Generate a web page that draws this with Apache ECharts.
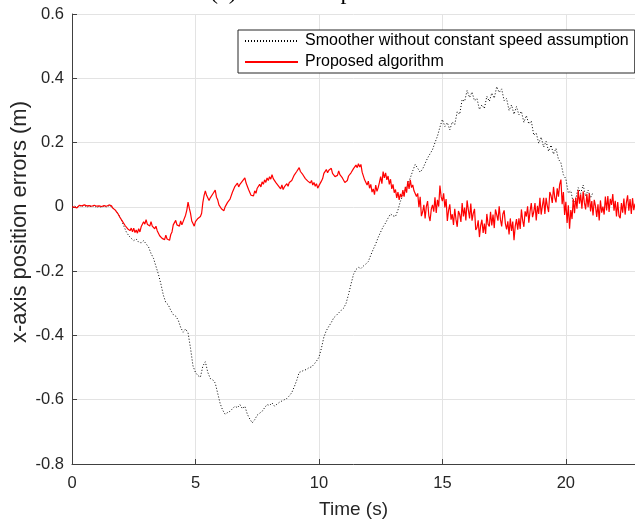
<!DOCTYPE html>
<html>
<head>
<meta charset="utf-8">
<script src="https://cdn.jsdelivr.net/npm/echarts@6/dist/echarts.min.js"></script>
<style>
  html, body { margin: 0; padding: 0; background: #fff; }
  #chart { width: 635px; height: 520px; }
</style>
</head>
<body>
<div id="chart"></div>
<script>
// Sampling intervals of the two error traces (seconds)
const smootherStep = 0.1;
const proposedStep = 0.05;

// x-axis position error of the smoother without constant speed assumption (m), t = 0 ... 21.1 s
const smootherErrors = [
  0.000, 0.003, -0.002, 0.004, 0.001, 0.005, -0.001, 0.003, 0.000, 0.004,
  -0.003, 0.002, -0.002, 0.003, -0.001, 0.004, 0.000, -0.006, -0.014, -0.026,
  -0.040, -0.060, -0.078, -0.090, -0.098, -0.105, -0.100, -0.110, -0.112, -0.105,
  -0.115, -0.125, -0.145, -0.160, -0.185, -0.210, -0.240, -0.275, -0.298, -0.305,
  -0.322, -0.335, -0.340, -0.352, -0.375, -0.390, -0.380, -0.392, -0.440, -0.495,
  -0.515, -0.525, -0.530, -0.495, -0.482, -0.515, -0.534, -0.538, -0.548, -0.580,
  -0.612, -0.632, -0.645, -0.640, -0.636, -0.628, -0.620, -0.625, -0.615, -0.628,
  -0.620, -0.645, -0.660, -0.672, -0.662, -0.648, -0.642, -0.636, -0.625, -0.615,
  -0.618, -0.610, -0.620, -0.614, -0.608, -0.604, -0.600, -0.596, -0.588, -0.578,
  -0.560, -0.540, -0.515, -0.512, -0.508, -0.506, -0.500, -0.498, -0.490, -0.480,
  -0.468, -0.440, -0.405, -0.385, -0.372, -0.360, -0.345, -0.338, -0.330, -0.322,
  -0.315, -0.300, -0.272, -0.240, -0.210, -0.195, -0.188, -0.192, -0.184, -0.178,
  -0.170, -0.150, -0.132, -0.115, -0.095, -0.078, -0.062, -0.050, -0.035, -0.022,
  -0.028, -0.030, -0.010, 0.018, 0.035, 0.055, 0.072, 0.090, 0.112, 0.132,
  0.120, 0.108, 0.118, 0.135, 0.152, 0.165, 0.178, 0.200, 0.220, 0.248,
  0.272, 0.250, 0.262, 0.240, 0.264, 0.256, 0.296, 0.288, 0.334, 0.328,
  0.362, 0.340, 0.357, 0.330, 0.337, 0.303, 0.317, 0.306, 0.344, 0.328,
  0.354, 0.338, 0.374, 0.356, 0.367, 0.330, 0.337, 0.300, 0.317, 0.288,
  0.312, 0.286, 0.297, 0.263, 0.284, 0.258, 0.267, 0.223, 0.230, 0.198,
  0.217, 0.186, 0.204, 0.173, 0.192, 0.164, 0.182, 0.148, 0.137, 0.100,
  0.087, 0.043, 0.050, 0.013, 0.024, 0.060, 0.042, 0.068, 0.033, 0.052,
  0.028, 0.045
];

// x-axis position error of the proposed algorithm (m), t = 0 ... 22.8 s
const proposedErrors = [
  // 0 - 1.95 s
  0.000, 0.004, -0.001, 0.003, -0.003, 0.002, 0.005, -0.001, 0.003, -0.002,
  0.006, 0.000, 0.003, -0.003, 0.004, -0.001, 0.002, -0.004, 0.005, -0.001,
  0.002, -0.004, 0.003, -0.002, 0.001, -0.004, 0.004, -0.002, 0.002, -0.003,
  0.006, 0.000, 0.003, -0.004, -0.002, -0.010, -0.010, -0.020, -0.022, -0.034,
  // 2 - 3.95 s
  -0.032, -0.046, -0.044, -0.058, -0.054, -0.068, -0.062, -0.074, -0.066, -0.078,
  -0.066, -0.080, -0.072, -0.082, -0.068, -0.078, -0.062, -0.066, -0.046, -0.054,
  -0.040, -0.054, -0.048, -0.060, -0.046, -0.060, -0.054, -0.068, -0.060, -0.074,
  -0.076, -0.090, -0.084, -0.098, -0.092, -0.102, -0.088, -0.100, -0.094, -0.104,
  // 4 - 5.95 s
  -0.086, -0.078, -0.056, -0.054, -0.042, -0.056, -0.050, -0.060, -0.044, -0.056,
  -0.046, -0.044, -0.026, -0.010, 0.015, -0.004, -0.020, -0.044, -0.052, -0.060,
  -0.046, -0.050, -0.036, -0.042, -0.030, -0.020, 0.014, 0.036, 0.050, 0.036,
  0.032, 0.020, 0.028, 0.022, 0.040, 0.034, 0.052, 0.030, 0.022, 0.006,
  // 6 - 7.95 s
  0.008, -0.006, -0.004, -0.012, 0.000, -0.002, 0.014, 0.008, 0.024, 0.026,
  0.046, 0.044, 0.064, 0.058, 0.074, 0.062, 0.070, 0.064, 0.080, 0.074,
  0.090, 0.074, 0.072, 0.054, 0.054, 0.036, 0.036, 0.034, 0.050, 0.042,
  0.058, 0.052, 0.070, 0.062, 0.078, 0.070, 0.084, 0.076, 0.090, 0.082,
  // 8 - 9.95 s
  0.094, 0.086, 0.100, 0.088, 0.090, 0.076, 0.082, 0.066, 0.066, 0.056,
  0.068, 0.054, 0.062, 0.058, 0.072, 0.064, 0.076, 0.070, 0.082, 0.084,
  0.099, 0.096, 0.110, 0.108, 0.122, 0.110, 0.116, 0.100, 0.102, 0.088,
  0.094, 0.080, 0.086, 0.074, 0.082, 0.068, 0.076, 0.064, 0.072, 0.058,
  // 10 - 11.95 s
  0.066, 0.062, 0.080, 0.088, 0.104, 0.104, 0.116, 0.106, 0.114, 0.108,
  0.120, 0.104, 0.108, 0.094, 0.100, 0.098, 0.112, 0.100, 0.106, 0.090,
  0.092, 0.076, 0.082, 0.082, 0.096, 0.094, 0.106, 0.106, 0.119, 0.118,
  0.130, 0.122, 0.134, 0.124, 0.132, 0.108, 0.102, 0.084, 0.084, 0.068,
  // 12 - 13.95 s
  0.080, 0.058, 0.070, 0.046, 0.056, 0.038, 0.068, 0.048, 0.060, 0.076,
  0.094, 0.072, 0.110, 0.090, 0.106, 0.084, 0.096, 0.070, 0.086, 0.056,
  0.070, 0.044, 0.054, 0.028, 0.046, 0.022, 0.040, 0.030, 0.052, 0.032,
  0.062, 0.044, 0.080, 0.056, 0.084, 0.060, 0.068, 0.050, 0.054, 0.032,
  // 14 - 15.45 s
  0.042, -0.001, 0.031, -0.029, -0.016, 0.006, -0.036, 0.001, 0.018, -0.027,
  -0.044, -0.007, 0.006, -0.015, 0.030, -0.019, 0.022, 0.001, 0.066, 0.031,
  0.018, 0.042, -0.002, 0.024, -0.044, -0.011, 0.008, -0.040, -0.023, -0.056,
  // 15.5 - 16.95 s
  -0.006, -0.039, -0.062, -0.013, -0.024, -0.047, 0.012, -0.030, -0.002, -0.042,
  0.020, -0.009, -0.036, 0.010, -0.043, -0.020, -0.006, -0.072, -0.065, -0.042,
  -0.094, -0.058, -0.040, -0.081, -0.052, -0.084, -0.022, -0.054, -0.061, -0.015,
  // 17 - 18.45 s
  -0.058, -0.024, -0.066, -0.008, -0.024, -0.043, 0.002, -0.039, -0.061, -0.022,
  -0.011, -0.052, -0.070, -0.045, -0.086, -0.036, -0.075, -0.046, -0.104, -0.060,
  -0.038, -0.071, -0.036, -0.069, -0.008, -0.042, -0.062, -0.014, -0.030, 0.002,
  // 18.5 - 19.95 s
  -0.049, -0.014, 0.012, -0.032, -0.016, 0.012, -0.042, 0.003, -0.022, 0.028,
  -0.024, 0.003, 0.028, -0.022, 0.028, 0.002, -0.016, 0.046, 0.035, 0.012,
  0.062, 0.029, 0.014, 0.058, 0.032, 0.070, 0.085, 0.008, 0.046, -0.025,
  // 20 - 22.8 s
  0.016, -0.050, 0.005, -0.068, -0.010, -0.038, 0.025, -0.020, 0.029, -0.006,
  0.052, 0.010, 0.039, -0.006, 0.048, 0.013, -0.008, 0.040, -0.001, 0.042,
  -0.014, 0.018, -0.027, 0.022, 0.002, -0.031, 0.008, -0.042, 0.020, -0.018,
  0.001, -0.024, 0.032, -0.011, 0.034, -0.016, 0.025, 0.006, 0.040, -0.012,
  0.019, -0.030, 0.015, -0.028, -0.035, 0.012, -0.018, 0.026, -0.024, 0.013,
  0.036, -0.012, 0.024, -0.022, 0.027, -0.010, 0.010
];

// Axis ranges and tick values
const timeTicks = [0, 5, 10, 15, 20];
const errorTicks = [-0.8, -0.6, -0.4, -0.2, 0, 0.2, 0.4, 0.6];
const timeMax = 22.8;

function toPairs(values, step) {
  return values.map((v, i) => [+(i * step).toFixed(2), v]);
}

const axisColor = '#404040';
const textColor = '#262626';
const gridColor = '#e3e3e3';
const sansFont = '"Liberation Sans", Arial, Helvetica, sans-serif';
const serifFont = '"Liberation Serif", "Times New Roman", serif';

const chart = echarts.init(document.getElementById('chart'), null, { renderer: 'canvas' });

chart.setOption({
  animation: false,
  backgroundColor: '#ffffff',
  textStyle: { fontFamily: sansFont },
  grid: { left: 72, right: 0, top: 14, bottom: 56, containLabel: false, outerBoundsMode: 'none' },
  graphic: [{
    type: 'text',
    left: 210,
    top: -19,
    silent: true,
    style: {
      text: '(a) Error comparison',
      fontFamily: serifFont,
      fontSize: 24,
      fill: '#000'
    }
  }],
  legend: {
    orient: 'vertical',
    left: 238,
    top: 30,
    padding: [3, 6, 3, 6],
    itemGap: 5,
    itemWidth: 53,
    itemHeight: 14,
    backgroundColor: '#ffffff',
    borderColor: '#262626',
    borderWidth: 1,
    borderRadius: 0,
    itemStyle: { opacity: 0 },
    textStyle: { fontFamily: sansFont, fontSize: 16, color: '#000', padding: [0, 0, 0, 2] },
    data: ['Smoother without constant speed assumption', 'Proposed algorithm']
  },
  xAxis: {
    type: 'value',
    min: timeTicks[0],
    max: timeMax,
    interval: 5,
    name: 'Time (s)',
    nameLocation: 'middle',
    nameGap: 36,
    nameMoveOverlap: false,
    nameTextStyle: { fontFamily: sansFont, fontSize: 19, color: textColor },
    axisLine: { onZero: false, lineStyle: { color: axisColor, width: 1 } },
    axisTick: { inside: true, length: 5, lineStyle: { color: axisColor } },
    axisLabel: {
      margin: 11,
      fontSize: 16.5,
      color: textColor,
      fontFamily: sansFont,
      showMaxLabel: false,
      formatter: v => (timeTicks.includes(v) ? String(v) : '')
    },
    splitLine: { show: true, lineStyle: { color: gridColor, width: 1 } }
  },
  yAxis: {
    type: 'value',
    min: errorTicks[0],
    max: errorTicks[errorTicks.length - 1],
    interval: 0.2,
    name: 'x-axis position errors (m)',
    nameLocation: 'middle',
    nameGap: 41,
    nameMoveOverlap: false,
    nameTextStyle: { fontFamily: sansFont, fontSize: 22, color: textColor, padding: [0, 0, 0, 34] },
    axisLine: { show: true, onZero: false, lineStyle: { color: axisColor, width: 1 } },
    axisTick: { show: true, inside: true, length: 5, lineStyle: { color: axisColor } },
    axisLabel: {
      margin: 8,
      fontSize: 16.5,
      color: textColor,
      fontFamily: sansFont,
      formatter: v => {
        const r = Math.round(v * 10) / 10;
        return r === 0 ? '0' : r.toFixed(1);
      }
    },
    splitLine: { show: true, lineStyle: { color: gridColor, width: 1 } }
  },
  series: [
    {
      name: 'Smoother without constant speed assumption',
      type: 'line',
      data: toPairs(smootherErrors, smootherStep),
      showSymbol: false,
      symbol: 'none',
      lineStyle: { color: '#000000', width: 1, type: [1, 2] },
      itemStyle: { color: '#000000' },
      z: 2
    },
    {
      name: 'Proposed algorithm',
      type: 'line',
      data: toPairs(proposedErrors, proposedStep),
      showSymbol: false,
      symbol: 'none',
      lineStyle: { color: '#ff0000', width: 1.2 },
      itemStyle: { color: '#ff0000' },
      z: 3
    }
  ]
});
</script>
</body>
</html>
